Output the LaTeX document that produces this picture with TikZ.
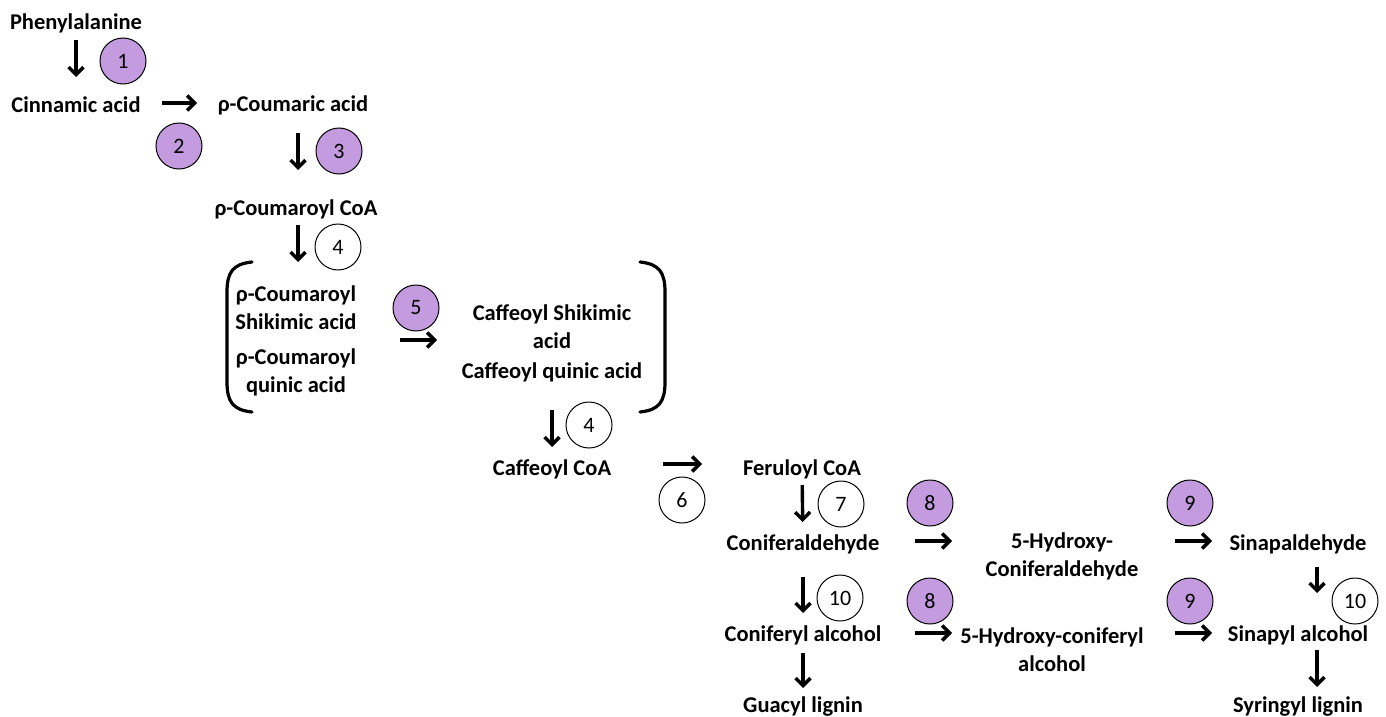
\documentclass[tikz,border=0pt]{standalone}
\usepackage{fontspec}
\setmainfont{Carlito}
\usetikzlibrary{arrows.meta}
\definecolor{enz}{RGB}{195,155,222}
\tikzset{
  cmp/.style={font=\bfseries\fontsize{22.5}{28}\selectfont, inner sep=0pt, align=center},
  arr/.style={line width=3.4pt, -{Straight Barb[length=7.5pt,width=15pt]}},
  enzp/.style={circle, draw=black, line width=1pt, fill=enz, minimum size=46pt, inner sep=0pt, font=\fontsize{22}{24}\selectfont},
  enzw/.style={enzp, fill=white},
  brk/.style={line width=3.2pt, line cap=round}
}
\begin{document}
\begin{tikzpicture}[x=1pt,y=-1pt]
\useasboundingbox (0,0) rectangle (1386,717);
% compounds
\node[cmp] (phe) at (76,23) {Phenylalanine};
\node[cmp] (cin) at (76,105) {Cinnamic acid};
\node[cmp] (cou) at (293,105) {ρ-Coumaric acid};
\node[cmp] (coa) at (296,209) {ρ-Coumaroyl CoA};
\node[cmp] (pcs) at (296,308) {ρ-Coumaroyl\\Shikimic acid};
\node[cmp] (pcq) at (296,372) {ρ-Coumaroyl\\quinic acid};
\node[cmp] (cs) at (552,327) {Caffeoyl Shikimic\\acid};
\node[cmp] (cq) at (552,372) {Caffeoyl quinic acid};
\node[cmp] (cfc) at (552,469) {Caffeoyl CoA};
\node[cmp] (fer) at (802,469) {Feruloyl CoA};
\node[cmp] (cald) at (803,544) {Coniferaldehyde};
\node[cmp] (calc) at (803,635) {Coniferyl alcohol};
\node[cmp] (gua) at (803,707) {Guacyl lignin};
\node[cmp] (hcald) at (1062,556) {5-Hydroxy-\\Coniferaldehyde};
\node[cmp] (hcalc) at (1052,650) {5-Hydroxy-coniferyl\\alcohol};
\node[cmp] (sald) at (1298,544) {Sinapaldehyde};
\node[cmp] (sal) at (1298,635) {Sinapyl alcohol};
\node[cmp] (syr) at (1298,707) {Syringyl lignin};
\coordinate (lgrp) at (296,340);
\coordinate (rgrp) at (552,340);
% brackets
\draw[brk] (252,262) .. controls (233,264) and (227,272) .. (227,292) -- (227,382) .. controls (227,402) and (233,410) .. (252,412);
\draw[brk] (640,262) .. controls (659,264) and (665,272) .. (665,292) -- (665,382) .. controls (665,402) and (659,410) .. (640,412);
% enzymes
\node[enzp] (e1) at (123,61) {1};
\node[enzp] (e2) at (179,146) {2};
\node[enzp] (e3) at (339,151) {3};
\node[enzw] (e4a) at (338,247) {4};
\node[enzp] (e5) at (416,308) {5};
\node[enzw] (e4b) at (589,425) {4};
\node[enzw] (e6) at (682,500) {6};
\node[enzw] (e7) at (841,504) {7};
\node[enzp] (e8a) at (930,503) {8};
\node[enzp] (e9a) at (1190,503) {9};
\node[enzw] (e10a) at (840,598) {10};
\node[enzp] (e8b) at (930,601) {8};
\node[enzp] (e9b) at (1190,601) {9};
\node[enzw] (e10b) at (1355,601) {10};
% arrows
\draw[arr, shorten <=17pt, shorten >=28pt] (phe.center) -- (cin.center);
\draw[arr, shorten <=86pt, shorten >=96pt] ([yshift=2pt]cin.center) -- ([yshift=2pt]cou.center);
\draw[arr, shorten <=28pt, shorten >=39pt] ([xshift=5pt]cou.center) -- ([xshift=2pt]coa.center);
\draw[arr, shorten <=16pt, shorten >=46pt] ([xshift=2pt]coa.center) -- ([xshift=2pt]pcs.center);
\draw[arr, shorten <=104pt, shorten >=115pt] (lgrp) -- (rgrp);
\draw[arr, shorten <=38pt, shorten >=22pt] (cq.center) -- (cfc.center);
\draw[arr, shorten <=111pt, shorten >=100pt] ([yshift=5pt]cfc.center) -- ([yshift=5pt]fer.center);
\draw[arr, shorten <=16pt, shorten >=22pt] (fer.center) -- (cald.center);
\draw[arr, shorten <=33pt, shorten >=22pt] (cald.center) -- (calc.center);
\draw[arr, shorten <=18pt, shorten >=19pt] (calc.center) -- (gua.center);
\draw[arr, shorten <=112pt, shorten >=110pt] ([yshift=3pt]cald.center) -- ([yshift=3pt]cald.center -| hcald.center);
\draw[arr, shorten <=113pt, shorten >=86pt] ([yshift=3pt]hcald.center |- sald.center) -- ([yshift=3pt]sald.center);
\draw[arr, shorten <=23pt, shorten >=42pt] ([xshift=19pt]sald.center) -- ([xshift=19pt]sal.center);
\draw[arr, shorten <=15pt, shorten >=20pt] ([xshift=19pt]sal.center) -- ([xshift=19pt]syr.center);
\draw[arr, shorten <=112pt, shorten >=100pt] ([yshift=2pt]calc.center) -- ([yshift=2pt]calc.center -| hcalc.center);
\draw[arr, shorten <=123pt, shorten >=86pt] ([yshift=2pt]hcalc.center |- sal.center) -- ([yshift=2pt]sal.center);
\end{tikzpicture}
\end{document}
